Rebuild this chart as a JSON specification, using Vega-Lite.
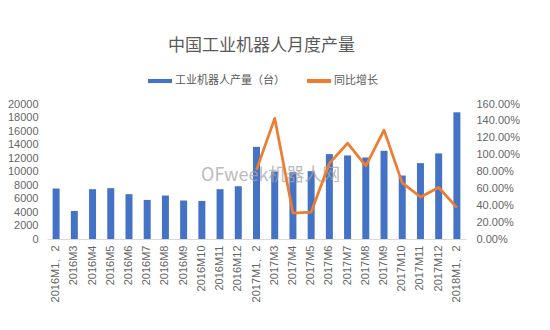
{
  "$schema": "https://vega.github.io/schema/vega-lite/v6.json",
  "width": 419,
  "height": 135,
  "autosize": {"type": "none"},
  "padding": {"left": 47, "top": 104, "right": 84, "bottom": 91},
  "background": "white",
  "title": {"text": "中国工业机器人月度产量", "font": "Noto Sans CJK SC", "fontSize": 17, "fontWeight": "normal", "color": "#595959", "offset": 14, "anchor": "middle", "dx": 5},
  "config": {
    "view": {"stroke": null},
    "axis": {"labelFont": "Liberation Sans", "labelFontSize": 11, "labelColor": "#666666", "grid": false, "ticks": false, "domain": false, "title": null}
  },
  "data": {"values": [
    {"month": "2016M1、2", "output": 7480, "growth": null},
    {"month": "2016M3", "output": 4160, "growth": null},
    {"month": "2016M4", "output": 7380, "growth": null},
    {"month": "2016M5", "output": 7530, "growth": null},
    {"month": "2016M6", "output": 6640, "growth": null},
    {"month": "2016M7", "output": 5790, "growth": null},
    {"month": "2016M8", "output": 6440, "growth": null},
    {"month": "2016M9", "output": 5700, "growth": null},
    {"month": "2016M10", "output": 5640, "growth": null},
    {"month": "2016M11", "output": 7380, "growth": null},
    {"month": "2016M12", "output": 7820, "growth": null},
    {"month": "2017M1、2", "output": 13650, "growth": 0.82},
    {"month": "2017M3", "output": 10000, "growth": 1.43},
    {"month": "2017M4", "output": 9900, "growth": 0.307},
    {"month": "2017M5", "output": 10050, "growth": 0.318},
    {"month": "2017M6", "output": 12580, "growth": 0.897},
    {"month": "2017M7", "output": 12380, "growth": 1.135},
    {"month": "2017M8", "output": 12080, "growth": 0.866},
    {"month": "2017M9", "output": 13070, "growth": 1.29},
    {"month": "2017M10", "output": 9410, "growth": 0.665},
    {"month": "2017M11", "output": 11240, "growth": 0.498},
    {"month": "2017M12", "output": 12680, "growth": 0.61},
    {"month": "2018M1、2", "output": 18770, "growth": 0.372}
  ]},
  "layer": [
    {
      "mark": {"type": "bar", "width": 7},
      "encoding": {
        "x": {"field": "month", "type": "nominal", "sort": null,
              "scale": {"paddingInner": 0, "paddingOuter": 0},
              "axis": {"labelAngle": -90, "domain": true, "domainColor": "#d9d9d9", "labelPadding": 6}},
        "y": {"field": "output", "type": "quantitative",
              "scale": {"domain": [0, 20000]},
              "axis": {"orient": "left", "values": [0, 2000, 4000, 6000, 8000, 10000, 12000, 14000, 16000, 18000, 20000], "format": "d", "labelPadding": 9}},
        "color": {"datum": "工业机器人产量（台）", "type": "nominal",
                  "scale": {"domain": ["工业机器人产量（台）", "同比增长"], "range": ["#4472C4", "#ED7D31"]},
                  "legend": {"orient": "none", "legendX": 101, "legendY": -35, "direction": "horizontal", "title": null,
                             "symbolType": "M-1,-0.17H1V0.17H-1Z", "symbolSize": 576, "symbolStrokeWidth": 0,
                             "labelFont": "Noto Sans CJK SC", "labelFontSize": 11, "labelColor": "#595959",
                             "columnPadding": 22, "labelOffset": 3,
                             "encode": {"symbols": {"update": {"fill": {"scale": "color", "field": "value"}, "stroke": {"value": "transparent"}, "opacity": {"value": 1}}}}}}
      }
    },
    {
      "data": {"values": [{"label": "OFweek机器人网", "month": "2017M3", "pos": 9300}]},
      "mark": {"type": "text", "font": "Noto Sans CJK SC", "fontSize": 18, "fontWeight": "normal", "color": "#a6a6a6", "opacity": 0.75, "dx": -4},
      "encoding": {
        "x": {"field": "month", "type": "nominal", "sort": null},
        "y": {"field": "pos", "type": "quantitative", "scale": {"domain": [0, 20000]}, "axis": null},
        "text": {"field": "label"}
      }
    },
    {
      "transform": [{"filter": "datum.growth != null"}],
      "mark": {"type": "line", "strokeWidth": 2.75, "strokeJoin": "round"},
      "encoding": {
        "x": {"field": "month", "type": "nominal", "sort": null},
        "y": {"field": "growth", "type": "quantitative",
              "scale": {"domain": [0, 1.6]},
              "axis": {"orient": "right", "values": [0, 0.2, 0.4, 0.6, 0.8, 1.0, 1.2, 1.4, 1.6], "format": ".2%", "labelPadding": 10}},
        "color": {"datum": "同比增长", "type": "nominal"}
      }
    }
  ],
  "resolve": {"scale": {"y": "independent"}}
}
